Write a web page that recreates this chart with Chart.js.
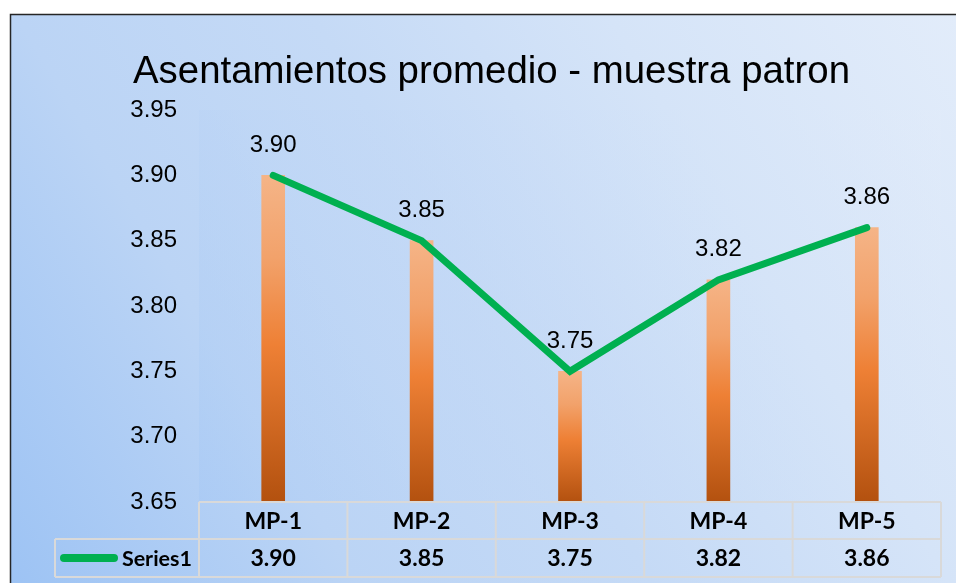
<!DOCTYPE html>
<html><head><meta charset="utf-8">
<script src="https://cdn.jsdelivr.net/npm/chart.js@4.4.0/dist/chart.umd.min.js"></script>
<style>html,body{margin:0;padding:0;background:#fff;overflow:hidden}#wrap{width:956px;height:583px;position:relative}</style>
</head><body><div id="wrap"><canvas id="c" width="956" height="583"></canvas></div>
<script>
const chartTitle = 'Asentamientos promedio - muestra patron';
const categories = ['MP-1', 'MP-2', 'MP-3', 'MP-4', 'MP-5'];
const seriesName = 'Series1';
const values = [3.90, 3.85, 3.75, 3.82, 3.86];
const yMin = 3.65, yMax = 3.95, yStep = 0.05;

const GREEN = '#00B050';
const FONT = '"Liberation Sans", Arial, sans-serif';
const TFONT = 'Lato, "Open Sans", sans-serif';

function bgGradient(ctx, x0, y0, x1, y1) {
  const g = ctx.createLinearGradient(x0, y1, x1, y0);
  g.addColorStop(0, '#9DC3F4');
  g.addColorStop(0.27, '#BBD4F5');
  g.addColorStop(0.5, '#C5DAF6');
  g.addColorStop(0.73, '#D5E4F8');
  g.addColorStop(1, '#E2ECFA');
  return g;
}

const bgPlugin = {
  id: 'bg',
  beforeDraw(chart) {
    const ctx = chart.ctx, ca = chart.chartArea;
    ctx.save();
    ctx.fillStyle = '#fff';
    ctx.fillRect(0, 0, chart.width, chart.height);
    ctx.fillStyle = bgGradient(ctx, 10, 14, chart.width, chart.height);
    ctx.fillRect(10, 14, chart.width - 10, chart.height - 14);
    ctx.globalAlpha = 0.3;
    ctx.fillStyle = bgGradient(ctx, ca.left, ca.top, ca.right, ca.bottom);
    ctx.fillRect(ca.left, ca.top, ca.right - ca.left, ca.bottom - ca.top);
    ctx.globalAlpha = 1;
    ctx.strokeStyle = '#262626';
    ctx.lineWidth = 1.5;
    ctx.beginPath();
    ctx.moveTo(10.5, chart.height);
    ctx.lineTo(10.5, 14.5);
    ctx.lineTo(chart.width, 14.5);
    ctx.stroke();
    // title
    ctx.fillStyle = '#000';
    ctx.font = '38.4px ' + FONT;
    ctx.textAlign = 'center';
    ctx.textBaseline = 'alphabetic';
    ctx.fillText(chartTitle, 491.5, 83);
    ctx.restore();
  }
};

const overlayPlugin = {
  id: 'overlay',
  afterDraw(chart) {
    const ctx = chart.ctx, ca = chart.chartArea, xs = chart.scales.x;
    const meta = chart.getDatasetMeta(0);
    ctx.save();
    // data labels
    ctx.fillStyle = '#000';
    ctx.font = '24px ' + FONT;
    ctx.textAlign = 'center';
    ctx.textBaseline = 'alphabetic';
    meta.data.forEach((pt, i) => {
      ctx.fillText(values[i].toFixed(2), pt.x, pt.y - 23.5);
    });
    // data table
    const n = categories.length;
    const colW = (ca.right - ca.left) / n;
    const r0 = ca.bottom, r1 = ca.bottom + 37, r2 = ca.bottom + 75;
    const legLeft = 55;
    ctx.strokeStyle = '#D9D9D9';
    ctx.lineWidth = 2;
    ctx.beginPath();
    ctx.moveTo(ca.left, r0); ctx.lineTo(ca.right, r0);
    ctx.moveTo(legLeft, r1); ctx.lineTo(ca.right, r1);
    ctx.moveTo(legLeft, r2); ctx.lineTo(ca.right, r2);
    ctx.moveTo(legLeft, r1); ctx.lineTo(legLeft, r2);
    for (let i = 0; i <= n; i++) {
      const x = ca.left + i * colW;
      ctx.moveTo(x, r0); ctx.lineTo(x, r2);
    }
    ctx.stroke();
    ctx.fillStyle = '#000';
    ctx.font = 'bold 23px ' + TFONT;
    ctx.textAlign = 'center';
    ctx.textBaseline = 'middle';
    categories.forEach((c, i) => {
      const x = xs.getPixelForValue(i);
      ctx.fillText(c, x, (r0 + r1) / 2 + 1);
      ctx.fillText(values[i].toFixed(2), x, (r1 + r2) / 2 + 1);
    });
    // legend key
    ctx.strokeStyle = GREEN;
    ctx.lineWidth = 8;
    ctx.lineCap = 'round';
    ctx.beginPath();
    ctx.moveTo(64, (r1 + r2) / 2);
    ctx.lineTo(114, (r1 + r2) / 2);
    ctx.stroke();
    ctx.font = 'bold 21.5px ' + TFONT;
    ctx.textAlign = 'right';
    ctx.fillText(seriesName, 192, (r1 + r2) / 2 + 1);
    ctx.restore();
  }
};

new Chart(document.getElementById('c'), {
  type: 'bar',
  data: {
    labels: categories,
    datasets: [
      {
        type: 'line', label: seriesName, data: values, order: 0,
        borderColor: GREEN, borderWidth: 7, pointRadius: 0,
        borderCapStyle: 'round', borderJoinStyle: 'miter', tension: 0
      },
      {
        type: 'bar', label: seriesName, data: values, order: 1,
        barThickness: 23, borderWidth: 0,
        backgroundColor: (c) => {
          const chart = c.chart, ca = chart.chartArea;
          if (!ca || c.type !== 'data') return '#ED7D31';
          const yTop = chart.scales.y.getPixelForValue(c.raw);
          const g = chart.ctx.createLinearGradient(0, yTop, 0, ca.bottom);
          g.addColorStop(0, '#F5B487');
          g.addColorStop(0.25, '#F2A26B');
          g.addColorStop(0.52, '#EE8035');
          g.addColorStop(1, '#B3510F');
          return g;
        }
      }
    ]
  },
  options: {
    responsive: false,
    devicePixelRatio: 1,
    animation: false,
    layout: { padding: { left: 10, top: 110, right: 15, bottom: 81 } },
    plugins: { legend: { display: false }, tooltip: { enabled: false }, title: { display: false } },
    scales: {
      x: { display: false, offset: true, grid: { display: false } },
      y: {
        min: yMin, max: yMax,
        afterFit: (s) => { s.width = 189; },
        grid: { display: false, drawTicks: false },
        border: { display: false },
        ticks: {
          stepSize: yStep, padding: 22, color: '#000',
          font: { family: FONT, size: 24 },
          callback: (v) => Number(v).toFixed(2)
        }
      }
    }
  },
  plugins: [bgPlugin, overlayPlugin]
});
</script>
</body></html>
